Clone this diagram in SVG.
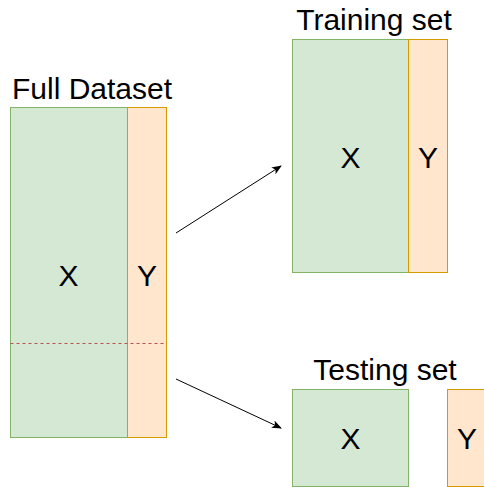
<svg xmlns="http://www.w3.org/2000/svg" width="484" height="487" viewBox="0 0 484 487">
<style>
.g{fill:#d5e8d4;stroke:#82b366;stroke-width:1}
.o{fill:#ffe6cc;stroke:#d79b00;stroke-width:1}
.t{font-family:"Liberation Sans",Arial,sans-serif;font-size:30px;fill:#000}
.c{text-anchor:middle}
.a{stroke:#000;stroke-width:1;fill:none}
</style>
<defs>
<marker id="ah" viewBox="0 0 10 10" refX="9" refY="5" markerWidth="10" markerHeight="10" markerUnits="userSpaceOnUse" orient="auto">
<path d="M0,1 L10,5 L0,9 L2.5,5 Z" fill="#000"/>
</marker>
</defs>
<g id="full">
<rect class="g" x="10.5" y="107.5" width="117" height="330"/>
<rect class="o" x="127.5" y="107.5" width="39" height="330"/>
<line x1="10.5" y1="343.5" x2="166.5" y2="343.5" stroke="#b85450" stroke-width="1" stroke-dasharray="3,3"/>
<text class="t c" x="92" y="99">Full Dataset</text>
<text class="t c" x="68.5" y="286">X</text>
<text class="t c" x="147" y="286">Y</text>
</g>
<g id="training">
<rect class="g" x="292.5" y="39.5" width="116" height="233"/>
<rect class="o" x="408.5" y="39.5" width="39" height="233"/>
<text class="t c" x="374" y="30">Training set</text>
<text class="t c" x="350.5" y="168">X</text>
<text class="t c" x="428" y="168">Y</text>
</g>
<g id="testing">
<rect class="g" x="292.5" y="389.5" width="116" height="97"/>
<rect class="o" x="447.5" y="389.5" width="39" height="97"/>
<text class="t c" x="385" y="380">Testing set</text>
<text class="t c" x="350.5" y="449">X</text>
<text class="t c" x="467" y="449">Y</text>
</g>
<g id="connectors">
<line class="a" x1="176" y1="233" x2="281" y2="166" marker-end="url(#ah)"/>
<line class="a" x1="176" y1="379" x2="281" y2="428" marker-end="url(#ah)"/>
</g>
</svg>
